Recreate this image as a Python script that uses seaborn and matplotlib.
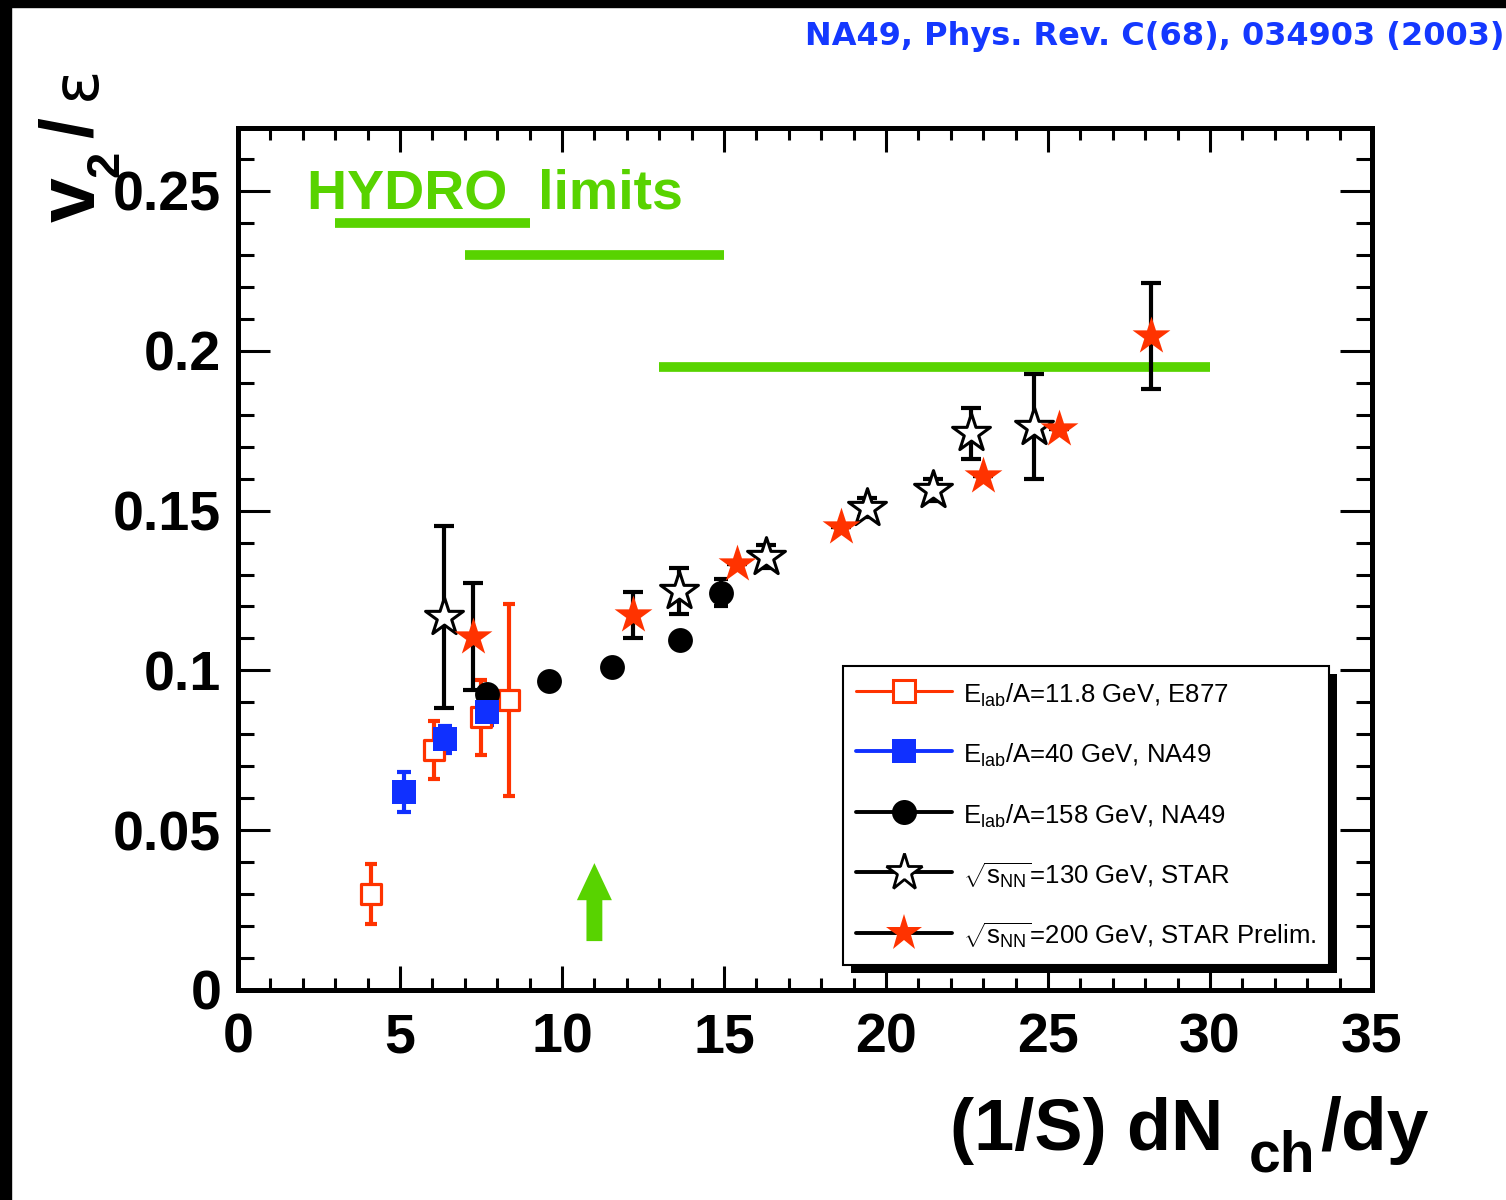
import matplotlib
matplotlib.use('Agg')
import matplotlib.pyplot as plt
import seaborn as sns
import numpy as np
import pandas as pd
from matplotlib.lines import Line2D
from matplotlib.patches import Rectangle
from matplotlib.transforms import IdentityTransform
from matplotlib.ticker import MultipleLocator

# ---------------- data ----------------
e877_x = [4.10, 6.05, 7.50, 8.36]
e877_y = [0.0299, 0.0751, 0.0853, 0.0907]
e877_err = [0.0094, 0.0092, 0.0117, 0.0300]

na40_x = [5.11, 6.40, 7.70]
na40_y = [0.0620, 0.0785, 0.0869]
na40_err = [0.0063, 0.0042, 0.0040]

na158_x = [7.67, 9.61, 11.55, 13.64, 14.90]
na158_y = [0.0925, 0.0967, 0.1012, 0.1095, 0.1243]
na158_err = [0.0015, 0.0015, 0.0015, 0.0015, 0.0043]

star130_x = [6.36, 13.61, 16.29, 19.40, 21.46, 22.61, 24.58]
star130_y = [0.1168, 0.1249, 0.1356, 0.1509, 0.1564, 0.1742, 0.1763]
star130_err = [0.0285, 0.0072, 0.0036, 0.0030, 0.0034, 0.0080, 0.0163]

star200_x = [7.24, 12.20, 15.39, 18.60, 23.00, 25.34, 28.18]
star200_y = [0.1106, 0.1173, 0.1332, 0.1450, 0.1609, 0.1755, 0.2046]
star200_err = [0.0166, 0.0071, 0.0, 0.0, 0.0, 0.0, 0.0166]

hydro_y = [0.240, 0.230, 0.195]
hydro_xmin = [3.0, 7.0, 13.0]
hydro_xmax = [9.0, 15.0, 30.0]

arrow_x = 11.0
arrow_y0 = 0.0153
arrow_y1 = 0.0397

legend_labels = [
    r'E$_{\mathrm{lab}}$/A=11.8 GeV, E877',
    r'E$_{\mathrm{lab}}$/A=40 GeV, NA49',
    r'E$_{\mathrm{lab}}$/A=158 GeV, NA49',
    r'$\sqrt{\mathrm{s}_{\mathrm{NN}}}$=130 GeV, STAR',
    r'$\sqrt{\mathrm{s}_{\mathrm{NN}}}$=200 GeV, STAR Prelim.',
]
x_ticks = [0, 5, 10, 15, 20, 25, 30, 35]
y_ticks = [0, 0.05, 0.1, 0.15, 0.2, 0.25]
y_ticklabels = ['0', '0.05', '0.1', '0.15', '0.2', '0.25']
citation = 'NA49, Phys. Rev. C(68), 034903 (2003)'

# ---------------- style ----------------
RED = '#ff3300'
BLUE = '#1030ff'
GREEN = '#58d300'
CITE = '#1438ff'

sns.set_style('ticks')
plt.rcParams['font.family'] = ['Liberation Sans', 'DejaVu Sans']
plt.rcParams['text.color'] = 'black'
plt.rcParams['axes.labelcolor'] = 'black'
plt.rcParams['xtick.color'] = 'black'
plt.rcParams['ytick.color'] = 'black'
plt.rcParams['axes.edgecolor'] = 'black'
plt.rcParams['mathtext.fontset'] = 'custom'
plt.rcParams['mathtext.rm'] = 'Liberation Sans'
plt.rcParams['mathtext.it'] = 'Liberation Sans:italic'
plt.rcParams['mathtext.bf'] = 'Liberation Sans:bold'

fig = plt.figure(figsize=(15.06, 12), dpi=100)
fig.patch.set_facecolor('white')
ax = fig.add_axes([238 / 1506, 1 - 990 / 1200, (1372 - 238) / 1506, (990 - 128) / 1200])
ax.set_facecolor('white')

# hydro limit lines
ax.hlines(hydro_y, hydro_xmin, hydro_xmax, colors=GREEN, linewidth=7, zorder=1)

# error bars
ax.errorbar(e877_x, e877_y, yerr=e877_err, fmt='none', ecolor=RED, elinewidth=3,
            capsize=4.5, capthick=3, zorder=2)
ax.errorbar(na158_x, na158_y, yerr=na158_err, fmt='none', ecolor='black', elinewidth=3,
            capsize=5, capthick=3, zorder=2)
ax.errorbar(na40_x, na40_y, yerr=na40_err, fmt='none', ecolor=BLUE, elinewidth=3,
            capsize=5, capthick=3, zorder=2)
ax.errorbar(star130_x, star130_y, yerr=star130_err, fmt='none', ecolor='black', elinewidth=3,
            capsize=7, capthick=3, zorder=2)
ax.errorbar(star200_x, star200_y, yerr=star200_err, fmt='none', ecolor='black', elinewidth=3,
            capsize=7, capthick=3, zorder=2)

# markers via seaborn
sns.scatterplot(x=e877_x, y=e877_y, ax=ax, marker='s', s=215, color='white',
                edgecolor=RED, linewidth=2.3, zorder=3, legend=False)
sns.scatterplot(x=na158_x, y=na158_y, ax=ax, marker='o', s=320, color='black',
                edgecolor='black', linewidth=0, zorder=4, legend=False)
sns.scatterplot(x=na40_x, y=na40_y, ax=ax, marker='s', s=280, color=BLUE,
                edgecolor=BLUE, linewidth=0, zorder=5, legend=False)
sns.scatterplot(x=star130_x, y=star130_y, ax=ax, marker='*', s=820, color='white',
                edgecolor='black', linewidth=2.2, zorder=6, legend=False)
sns.scatterplot(x=star200_x, y=star200_y, ax=ax, marker='*', s=820, color=RED,
                edgecolor=RED, linewidth=0, zorder=6, legend=False)

# arrow
ax.arrow(arrow_x, arrow_y0, 0, arrow_y1 - arrow_y0, width=0.49, head_width=1.08,
         head_length=0.0116, length_includes_head=True, color=GREEN, zorder=3,
         linewidth=0)

# HYDRO text
ax.text(2.13, 0.2444, 'HYDRO  limits', color=GREEN, fontsize=40, fontweight='bold',
        va='baseline', ha='left', zorder=3)

# axes
ax.set_xlim(0, 35)
ax.set_ylim(0, 0.2697)
ax.set_xticks(x_ticks)
ax.set_xticklabels([str(t) for t in x_ticks])
ax.set_yticks(y_ticks)
ax.set_yticklabels(y_ticklabels)
ax.xaxis.set_minor_locator(MultipleLocator(1))
ax.yaxis.set_minor_locator(MultipleLocator(0.01))
for s in ax.spines.values():
    s.set_linewidth(3.6)
    s.set_color('black')
    s.set_visible(True)
ax.tick_params(axis='both', which='both', direction='in', top=True, right=True,
               width=2.2, color='black', labelcolor='black')
ax.tick_params(axis='x', which='major', length=17, pad=16)
ax.tick_params(axis='x', which='minor', length=8.5)
ax.tick_params(axis='y', which='major', length=23, pad=12)
ax.tick_params(axis='y', which='minor', length=11.5)
for lab in ax.get_xticklabels() + ax.get_yticklabels():
    lab.set_fontsize(40)
    lab.set_fontweight('bold')
    lab.set_color('black')
ax.grid(False)

# legend
handles = [
    Line2D([], [], color=RED, lw=2.2, marker='s', markersize=16, mfc='white', mec=RED, mew=2.2),
    Line2D([], [], color=BLUE, lw=2.8, marker='s', markersize=17.5, mfc=BLUE, mec=BLUE, mew=0),
    Line2D([], [], color='black', lw=2.8, marker='o', markersize=18, mfc='black', mec='black', mew=0),
    Line2D([], [], color='black', lw=2.8, marker='*', markersize=28, mfc='white', mec='black', mew=2.0),
    Line2D([], [], color='black', lw=2.8, marker='*', markersize=28, mfc=RED, mec=RED, mew=0),
]
leg = ax.legend(handles, legend_labels, loc='upper left',
                bbox_to_anchor=(843 / 1506, 1 - 666 / 1200), bbox_transform=fig.transFigure,
                prop={'family': 'Liberation Sans', 'size': 18.5}, frameon=True, fancybox=False,
                edgecolor='black', framealpha=1, borderpad=0.5, labelspacing=1.17,
                handlelength=3.75, handleheight=1.45, handletextpad=0.42, borderaxespad=0)
leg.get_frame().set_linewidth(1.5)
leg.set_zorder(10)
for t in leg.get_texts():
    t.set_color('black')

# axis labels as text pieces
W, H = 1506, 1200
def fx(px):
    return px / W
def fy(py):
    return 1 - py / H

fig.text(fx(950), fy(1150), '(1/S) dN', fontsize=52, fontweight='bold', ha='left', va='baseline')
fig.text(fx(1249), fy(1172), 'ch', fontsize=41, fontweight='bold', ha='left', va='baseline')
fig.text(fx(1320), fy(1150), '/dy', fontsize=54, fontweight='bold', ha='left', va='baseline')

fig.text(fx(95), fy(222), 'v', fontsize=58, fontweight='bold', rotation=90,
         rotation_mode='anchor', ha='left', va='baseline')
fig.text(fx(118), fy(177), '2', fontsize=34, fontweight='bold', rotation=90,
         rotation_mode='anchor', ha='left', va='baseline')
fig.text(fx(92), fy(138), '/', fontsize=54, fontweight='bold', rotation=90,
         rotation_mode='anchor', ha='left', va='baseline')
fig.text(fx(95), fy(100), 'ε', fontsize=46, rotation=90, family=['DejaVu Sans'],
         rotation_mode='anchor', ha='left', va='baseline')

# citation
fig.text(fx(805), fy(45), citation, fontsize=23, fontweight='bold', color=CITE,
         family=['DejaVu Sans'], ha='left', va='baseline')

# page border strips
fig.add_artist(Rectangle((0, 0), 11 / W, 1, transform=fig.transFigure, color='black', zorder=20))
fig.add_artist(Rectangle((0, 1 - 7 / H), 1, 7 / H, transform=fig.transFigure, color='black', zorder=20))

# legend shadow
fig.canvas.draw()
bb = leg.get_window_extent()
shadow = Rectangle((bb.x0 + 8, bb.y0 - 8), bb.width, bb.height, transform=IdentityTransform(),
                   facecolor='black', edgecolor='none', zorder=9)
ax.add_patch(shadow)
shadow.set_clip_on(False)

fig.savefig('out.png', dpi=100, facecolor='white')
